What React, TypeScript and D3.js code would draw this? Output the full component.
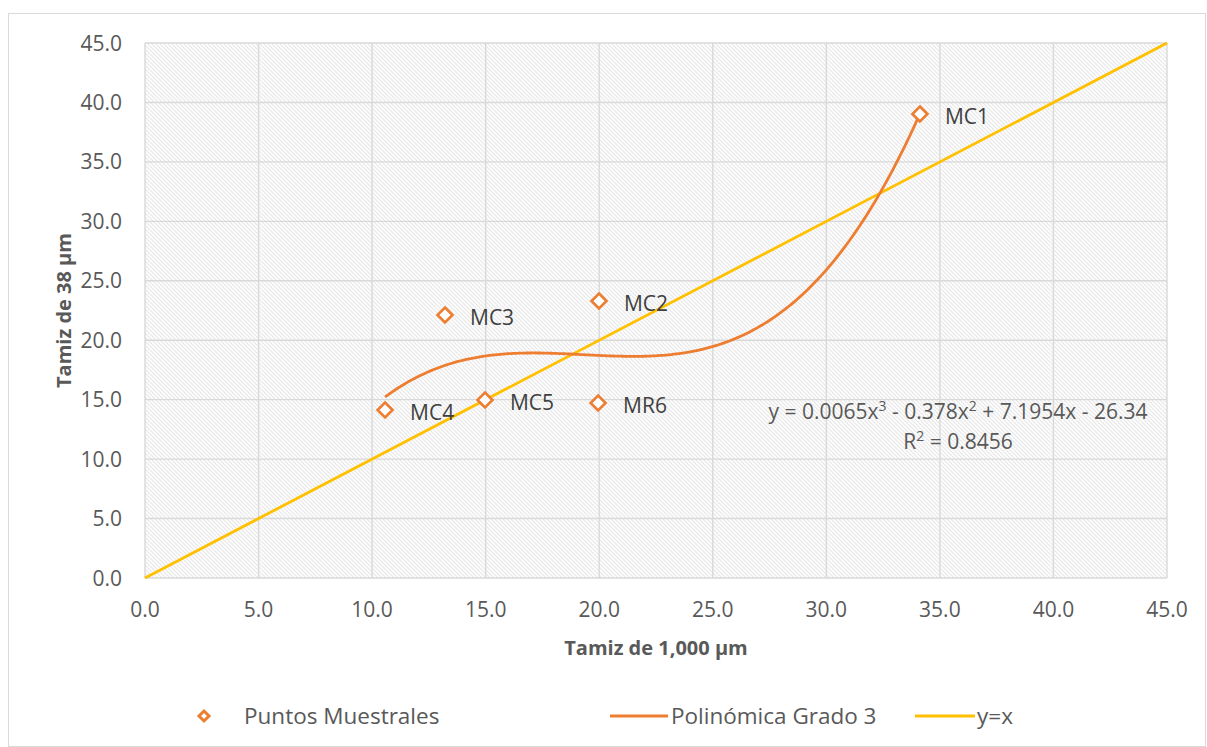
import React from "react";
import * as d3 from "d3";

const pointNames = ["MC1", "MC2", "MC3", "MC4", "MC5", "MR6"];
const pointX = [34.12, 19.99, 13.21, 10.57, 14.97, 19.95];
const pointY = [39.03, 23.3, 22.12, 14.13, 14.97, 14.72];
const tickValues = [0, 5, 10, 15, 20, 25, 30, 35, 40, 45];
const equationText = ["y = 0.0065x", "3", " - 0.378x", "2", " + 7.1954x - 26.34"];
const r2Text = "0.8456";
const legendLabels = ["Puntos Muestrales", "Polinómica Grado 3", "y=x"];

const W = 1207;
const H = 747;
const plot = { left: 145, right: 1167, top: 43, bottom: 578 };
const ORANGE = "#ED7D31";
const YELLOW = "#FFC000";
const GRID = "#d9d9d9";
const TEXT = "#595959";
const FONT = "'Open Sans', 'Noto Sans', sans-serif";

// least squares cubic fit (Excel polynomial trendline, order 3)
function cubicFit(xs: number[], ys: number[]): number[] {
  const n = 4;
  const A: number[][] = [];
  for (let i = 0; i < n; i++) {
    const row: number[] = [];
    for (let j = 0; j < n; j++) row.push(d3.sum(xs, (x) => Math.pow(x, i + j)));
    row.push(d3.sum(xs, (x, k) => Math.pow(x, i) * ys[k]));
    A.push(row);
  }
  for (let c = 0; c < n; c++) {
    let p = c;
    for (let r = c + 1; r < n; r++) if (Math.abs(A[r][c]) > Math.abs(A[p][c])) p = r;
    [A[c], A[p]] = [A[p], A[c]];
    for (let r = 0; r < n; r++) {
      if (r === c) continue;
      const f = A[r][c] / A[c][c];
      for (let k = c; k <= n; k++) A[r][k] -= f * A[c][k];
    }
  }
  return A.map((row, i) => row[n] / A[i][i]);
}

export default function App() {
  const x = d3.scaleLinear().domain([0, 45]).range([plot.left, plot.right]);
  const y = d3.scaleLinear().domain([0, 45]).range([plot.bottom, plot.top]);
  const coef = cubicFit(pointX, pointY);
  const xmin = d3.min(pointX)!;
  const xmax = d3.max(pointX)!;
  const curveXs = d3.range(0, 201).map((i) => xmin + ((xmax - xmin) * i) / 200);
  const poly = (v: number) => coef[0] + coef[1] * v + coef[2] * v * v + coef[3] * v * v * v;
  const curvePath = d3
    .line<number>()
    .x((v) => x(v))
    .y((v) => y(poly(v)))(curveXs)!;
  const idLine = d3
    .line<number>()
    .x((v) => x(v))
    .y((v) => y(v))([0, 45])!;
  const diamond = (cx: number, cy: number, r: number) =>
    `M${cx},${cy - r}L${cx + r},${cy}L${cx},${cy + r}L${cx - r},${cy}Z`;

  return (
    <svg width={W} height={H} style={{ position: "absolute", left: 0, top: 0, background: "#fff" }} fontFamily={FONT}>
      <defs>
        <pattern id="hatch" patternUnits="userSpaceOnUse" width="4" height="4">
          <rect width="4" height="4" fill="#ffffff" />
          <path d="M-1,-1L5,5M-1,3L1,5M3,-1L5,1" stroke="#e6e6e6" strokeWidth="1.1" />
        </pattern>
      </defs>
      <rect x={8.5} y={13.5} width={1197} height={733} fill="#fff" stroke={GRID} strokeWidth={1} />
      <rect x={plot.left} y={plot.top} width={plot.right - plot.left} height={plot.bottom - plot.top} fill="url(#hatch)" />
      {tickValues.map((t) => (
        <g key={"g" + t}>
          <line x1={x(t)} x2={x(t)} y1={plot.top} y2={plot.bottom} stroke={GRID} strokeWidth={1.4} />
          <line x1={plot.left} x2={plot.right} y1={y(t)} y2={y(t)} stroke={GRID} strokeWidth={1.4} />
        </g>
      ))}
      {tickValues.map((t) => (
        <text key={"yt" + t} x={plot.left - 23} y={y(t)} dy="0.36em" textAnchor="end" fontSize={21} fill={TEXT}>
          {t.toFixed(1)}
        </text>
      ))}
      {tickValues.map((t) => (
        <text key={"xt" + t} x={x(t)} y={617} textAnchor="middle" fontSize={21} fill={TEXT}>
          {t.toFixed(1)}
        </text>
      ))}
      <text x={(plot.left + plot.right) / 2} y={655} textAnchor="middle" fontSize={20} fontWeight="bold" fill={TEXT}>
        Tamiz de 1,000 μm
      </text>
      <text
        transform={`translate(71,${(plot.top + plot.bottom) / 2}) rotate(-90)`}
        textAnchor="middle"
        fontSize={20}
        fontWeight="bold"
        fill={TEXT}
      >
        Tamiz de 38 μm
      </text>
      <path d={idLine} fill="none" stroke={YELLOW} strokeWidth={2.8} />
      <path d={curvePath} fill="none" stroke={ORANGE} strokeWidth={2.8} />
      {pointX.map((px, i) => (
        <g key={pointNames[i]}>
          <path d={diamond(x(px), y(pointY[i]), 7.5)} fill="#fff" stroke={ORANGE} strokeWidth={2.6} />
          <text x={x(px) + 25} y={y(pointY[i]) + 2} dy="0.36em" fontSize={21} fill="#404040">
            {pointNames[i]}
          </text>
        </g>
      ))}
      <text x={958} y={419} textAnchor="middle" fontSize={21} fill={TEXT}>
        <tspan>{equationText[0]}</tspan>
        <tspan fontSize={14} dy={-8}>{equationText[1]}</tspan>
        <tspan dy={8}>{equationText[2]}</tspan>
        <tspan fontSize={14} dy={-8}>{equationText[3]}</tspan>
        <tspan dy={8}>{equationText[4]}</tspan>
      </text>
      <text x={958} y={449} textAnchor="middle" fontSize={21} fill={TEXT}>
        <tspan>R</tspan>
        <tspan fontSize={14} dy={-8}>2</tspan>
        <tspan dy={8}>{" = " + r2Text}</tspan>
      </text>
      <g fontSize={22.5} fill={TEXT}>
        <path d={diamond(204, 716, 5)} fill="#fff" stroke={ORANGE} strokeWidth={3} />
        <text x={244} y={716} dy="0.36em">{legendLabels[0]}</text>
        <line x1={610} x2={668} y1={716} y2={716} stroke={ORANGE} strokeWidth={2.8} />
        <text x={671} y={716} dy="0.36em">{legendLabels[1]}</text>
        <line x1={915} x2={975} y1={716} y2={716} stroke={YELLOW} strokeWidth={2.8} />
        <text x={977} y={716} dy="0.36em">{legendLabels[2]}</text>
      </g>
    </svg>
  );
}
